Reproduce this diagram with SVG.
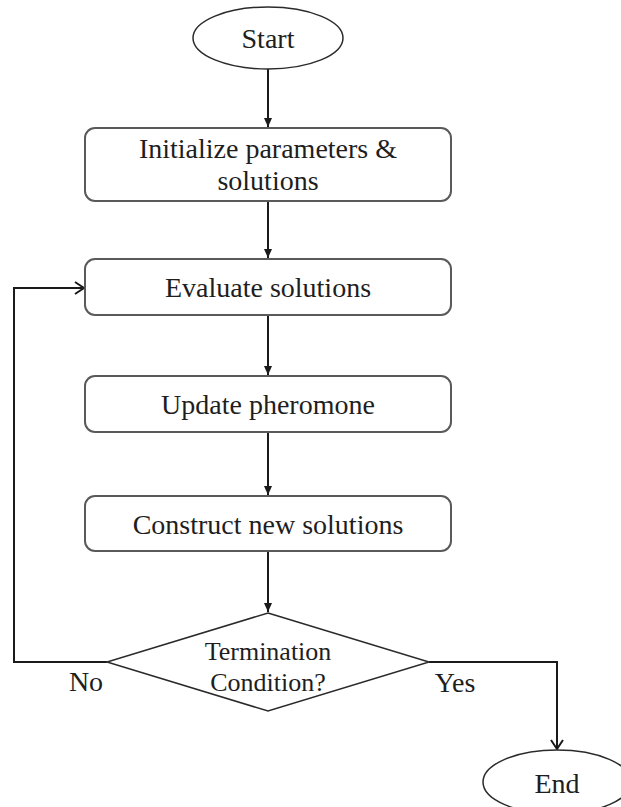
<svg xmlns="http://www.w3.org/2000/svg" width="621" height="807" viewBox="0 0 621 807">
<style>
.box{fill:#fff;stroke:#5a5a5a;stroke-width:2}
.shape{fill:#fff;stroke:#2a2a2a;stroke-width:1.5}
.t{font-family:"Liberation Serif","Times New Roman",serif;font-size:28px;fill:#1e1e1e;text-anchor:middle}
.d{font-size:26px}
.c{fill:none;stroke:#1a1a1a;stroke-width:2}
</style>
<defs>
<marker id="af" markerUnits="userSpaceOnUse" markerWidth="10" markerHeight="10" refX="9" refY="5" orient="auto">
<path d="M0,1 L9,5 L0,9 z" fill="#1a1a1a"/>
</marker>
<marker id="ao" markerUnits="userSpaceOnUse" markerWidth="12" markerHeight="14" refX="10" refY="7" orient="auto">
<path d="M1,1 L10,7 L1,13" fill="none" stroke="#1a1a1a" stroke-width="2"/>
</marker>
</defs>
<rect width="621" height="807" fill="#fff"/>
<g id="connectors">
<line class="c" x1="268" y1="69" x2="268" y2="127" marker-end="url(#af)"/>
<line class="c" x1="268" y1="201" x2="268" y2="258" marker-end="url(#af)"/>
<line class="c" x1="268" y1="315" x2="268" y2="375" marker-end="url(#af)"/>
<line class="c" x1="268" y1="432" x2="268" y2="495" marker-end="url(#af)"/>
<line class="c" x1="268" y1="551" x2="268" y2="612" marker-end="url(#af)"/>
<polyline class="c" points="107,662 14,662 14,288 84,288" marker-end="url(#ao)"/>
<polyline class="c" points="429,662 557,662 557,749" marker-end="url(#ao)"/>
<text class="t" x="86" y="691">No</text>
<text class="t" x="455" y="692">Yes</text>
</g>
<g id="start">
<ellipse class="shape" cx="268" cy="38" rx="75" ry="31"/>
<text class="t" x="268" y="48">Start</text>
</g>
<g id="init">
<rect class="box" x="85" y="128" width="366" height="73" rx="10"/>
<text class="t" x="268" y="158">Initialize parameters &amp;</text>
<text class="t" x="268" y="190">solutions</text>
</g>
<g id="evaluate">
<rect class="box" x="85" y="259" width="366" height="56" rx="10"/>
<text class="t" x="268" y="297">Evaluate solutions</text>
</g>
<g id="update">
<rect class="box" x="85" y="376" width="366" height="56" rx="10"/>
<text class="t" x="268" y="414">Update pheromone</text>
</g>
<g id="construct">
<rect class="box" x="85" y="496" width="366" height="55" rx="10"/>
<text class="t" x="268" y="534">Construct new solutions</text>
</g>
<g id="decision">
<polygon class="shape" points="268,613 429,662 268,711 107,662"/>
<text class="t d" x="268" y="660">Termination</text>
<text class="t d" x="268" y="691">Condition?</text>
</g>
<g id="end">
<ellipse class="shape" cx="557" cy="782" rx="74" ry="32"/>
<text class="t" x="557" y="793">End</text>
</g>
</svg>
